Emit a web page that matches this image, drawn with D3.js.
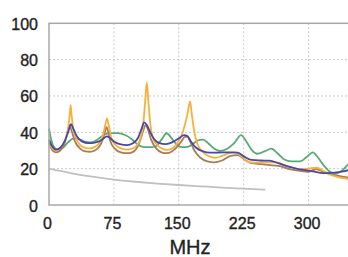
<!DOCTYPE html>
<html>
<head>
<meta charset="utf-8">
<script src="https://cdn.jsdelivr.net/npm/d3@7"></script>
<style>
  body { margin: 0; background: #fff; }
  svg { display: block; font-family: "Liberation Sans", Arial, sans-serif; }
  text { stroke: #222; stroke-width: 0.35px; }
</style>
</head>
<body>
<svg id="chart" width="348" height="257">
  <g id="grid"></g>
  <g id="lines"></g>
  <g id="frame"></g>
  <g id="x_axis"></g>
  <g id="y_axis"></g>
</svg>
<script>
  const xTicks = [0, 75, 150, 225, 300]
  const yTicks = [0, 20, 40, 60, 80, 100]
  const xLabel = "MHz"

  const orangeMHz = [0,4,8,14,19,22,24,25,26,28,31,36,42,47,53,58,62,65,67,69,72,77,84,90,96,102,106,109,111,113,115,117,120,125,131,136,142,148,153,157,160,163,165,168,172,178,185,192,200,208,215,222,229,236,245,255,263,272,282,290,300,309,318,326,332,340,352]
  const orangeVal = [35,31,30,32,36,42,50,55,50,42,37,33,31.5,31.2,32,34,38,44,47.7,44,37,33,31,30.5,31,33,37,45,56,67.5,56,45,37,33,31,30.3,31,34,38,44,50,57,50,40,33,29,26.8,26,27,28.5,29,27,24,23.3,23.5,23.5,23.5,22,20.5,19.6,20,20.5,18.5,16.5,15.6,14.8,14]

  const brownMHz = [0,4,8,13,18,21,23.5,26,30,36,42,47,53,58,62,65,66.5,68,71,76,83,90,96,101,105,109,111.5,114,118,124,130,136,142,148,153,157,160,163,168,175,183,191,200,210,218,226,234,245,255,265,278,290,300,309,318,326,335,345,352]
  const brownVal = [34,30,29,30,34,39,44,41,35,31,29.5,29.3,30,32,36,41,43,41,35,31,29,28.5,29,31,35,41,44,42,36,31,29,28.5,29.5,32,35,37.5,37.6,35,30,26,24,23.5,24.5,27,27.5,25,23,22.5,22,21.5,19.8,18.8,18.3,19.8,18,17,16,15.2,15]

  const blueMHz = [0,4,8,13,18,22,25.5,28,32,38,46,54,60,64,67,70,75,82,90,97,103,107,110,113,117,122,128,134,140,146,151,156,160,164,170,178,186,193,200,210,218,226,234,245,255,265,278,288,294,305,317,330,340,352]
  const blueVal = [36,32,30.5,31.5,35,40,44.5,42,38,35,34,34.5,35.5,37,37.8,37,35,33.5,33,34,37,42,45.5,44,40,36,34,33.5,34,35.5,37,38.5,38,35,31.5,29.5,28.8,28.8,29,29,28.8,26.5,24.8,24.5,24.4,23,21,19.8,19.3,18.5,17.5,17.8,18.5,20]

  const greenMHz = [0,2,5,10,16,22,28,34,40,48,56,63,70,80,88,95,102,108,118,124,130,136,142,148,154,160,166,172,178,184,191,198,206,214,222,228,234,241,249,257,264,272,280,290,298,305,311,318,326,332,340,346,352]
  const greenVal = [42,37,32.5,30.5,31.5,34.5,36.5,36.5,35,34.5,36,38.5,39.6,39.6,38.5,36.5,33.5,32,31.8,32.5,36,39.5,36.5,33,31.8,32,33.5,35.5,36,34,31,29.8,31,34,38.5,35,30.5,28.2,29.5,31,28.5,25,24,24,26.5,29,26,21.5,18,17.4,19.5,22.5,24]

  const grayMHz = [0,25,50,75,100,125,150,175,200,225,250]
  const grayVal = [20,17.6,15.6,14,12.8,11.8,11,10.3,9.6,9,8.4]

  function make_scales() {
    return {
      x: d3.scaleLinear().domain([0, 350]).range([49, 49 + 0.8653 * 350]),
      y: d3.scaleLinear().domain([0, 100]).range([205, 23.3])
    }
  }

  function draw_grid(scales) {
    let g = d3.select("#grid")
    g.selectAll("line.h")
      .data(yTicks.filter(d => d > 0 && d < 100)).enter()
      .append("line")
      .attr("x1", scales.x(0)).attr("x2", 348)
      .attr("y1", d => scales.y(d)).attr("y2", d => scales.y(d))
      .attr("stroke", "#c8c8c8").attr("stroke-dasharray", "2,2")
    g.selectAll("line.v")
      .data(xTicks.filter(d => d > 0)).enter()
      .append("line")
      .attr("x1", d => scales.x(d)).attr("x2", d => scales.x(d))
      .attr("y1", scales.y(100)).attr("y2", scales.y(0))
      .attr("stroke", "#c8c8c8").attr("stroke-dasharray", "2,2")
  }

  function draw_lines(scales) {
    let series = [
      {x: grayMHz, y: grayVal, color: "#c0c0c0"},
      {x: greenMHz, y: greenVal, color: "#5aaa74"},
      {x: brownMHz, y: brownVal, color: "#a97c58"},
      {x: orangeMHz, y: orangeVal, color: "#f7b13a"},
      {x: blueMHz, y: blueVal, color: "#4848a8"}
    ]
    let path_generator = d3.line()
      .x(d => scales.x(d[0]))
      .y(d => scales.y(d[1]))
      .curve(d3.curveMonotoneX)

    d3.select("#lines")
      .selectAll("path")
      .data(series).enter()
      .append("path")
      .attr("d", s => path_generator(s.x.map((v, i) => [v, s.y[i]])))
      .attr("fill", "none")
      .attr("stroke", s => s.color)
      .attr("stroke-width", 1.8)
      .attr("stroke-linejoin", "round")
  }

  function draw_axes(scales) {
    d3.select("#frame")
      .append("rect")
      .attr("x", scales.x(0)).attr("y", scales.y(100))
      .attr("width", 360).attr("height", scales.y(0) - scales.y(100))
      .attr("fill", "none").attr("stroke", "#a8a8a8").attr("stroke-width", 1.5)

    let x_axis = d3.axisBottom(scales.x).tickValues(xTicks).tickSize(0).tickPadding(0)
    let xg = d3.select("#x_axis")
      .attr("transform", `translate(0, ${scales.y(0)})`)
      .call(x_axis)
    xg.select(".domain").remove()
    xg.selectAll("text")
      .attr("font-size", 16).attr("fill", "#222")
      .attr("dy", null).attr("y", 24).attr("x", -2)

    let y_axis = d3.axisLeft(scales.y).tickValues(yTicks).tickSize(0).tickPadding(0)
    let yg = d3.select("#y_axis")
      .attr("transform", `translate(38, 0)`)
      .call(y_axis)
    yg.select(".domain").remove()
    yg.selectAll("text")
      .attr("font-size", 16).attr("fill", "#222")
      .attr("dy", null).attr("x", 0).attr("y", 6)

    d3.select("#chart").append("text")
      .attr("x", 190).attr("y", 254)
      .attr("text-anchor", "middle")
      .attr("font-size", 20).attr("fill", "#222")
      .text(xLabel)
  }

  function visualize() {
    let scales = make_scales()
    draw_grid(scales)
    draw_lines(scales)
    draw_axes(scales)
  }

  visualize()
</script>
</body>
</html>
